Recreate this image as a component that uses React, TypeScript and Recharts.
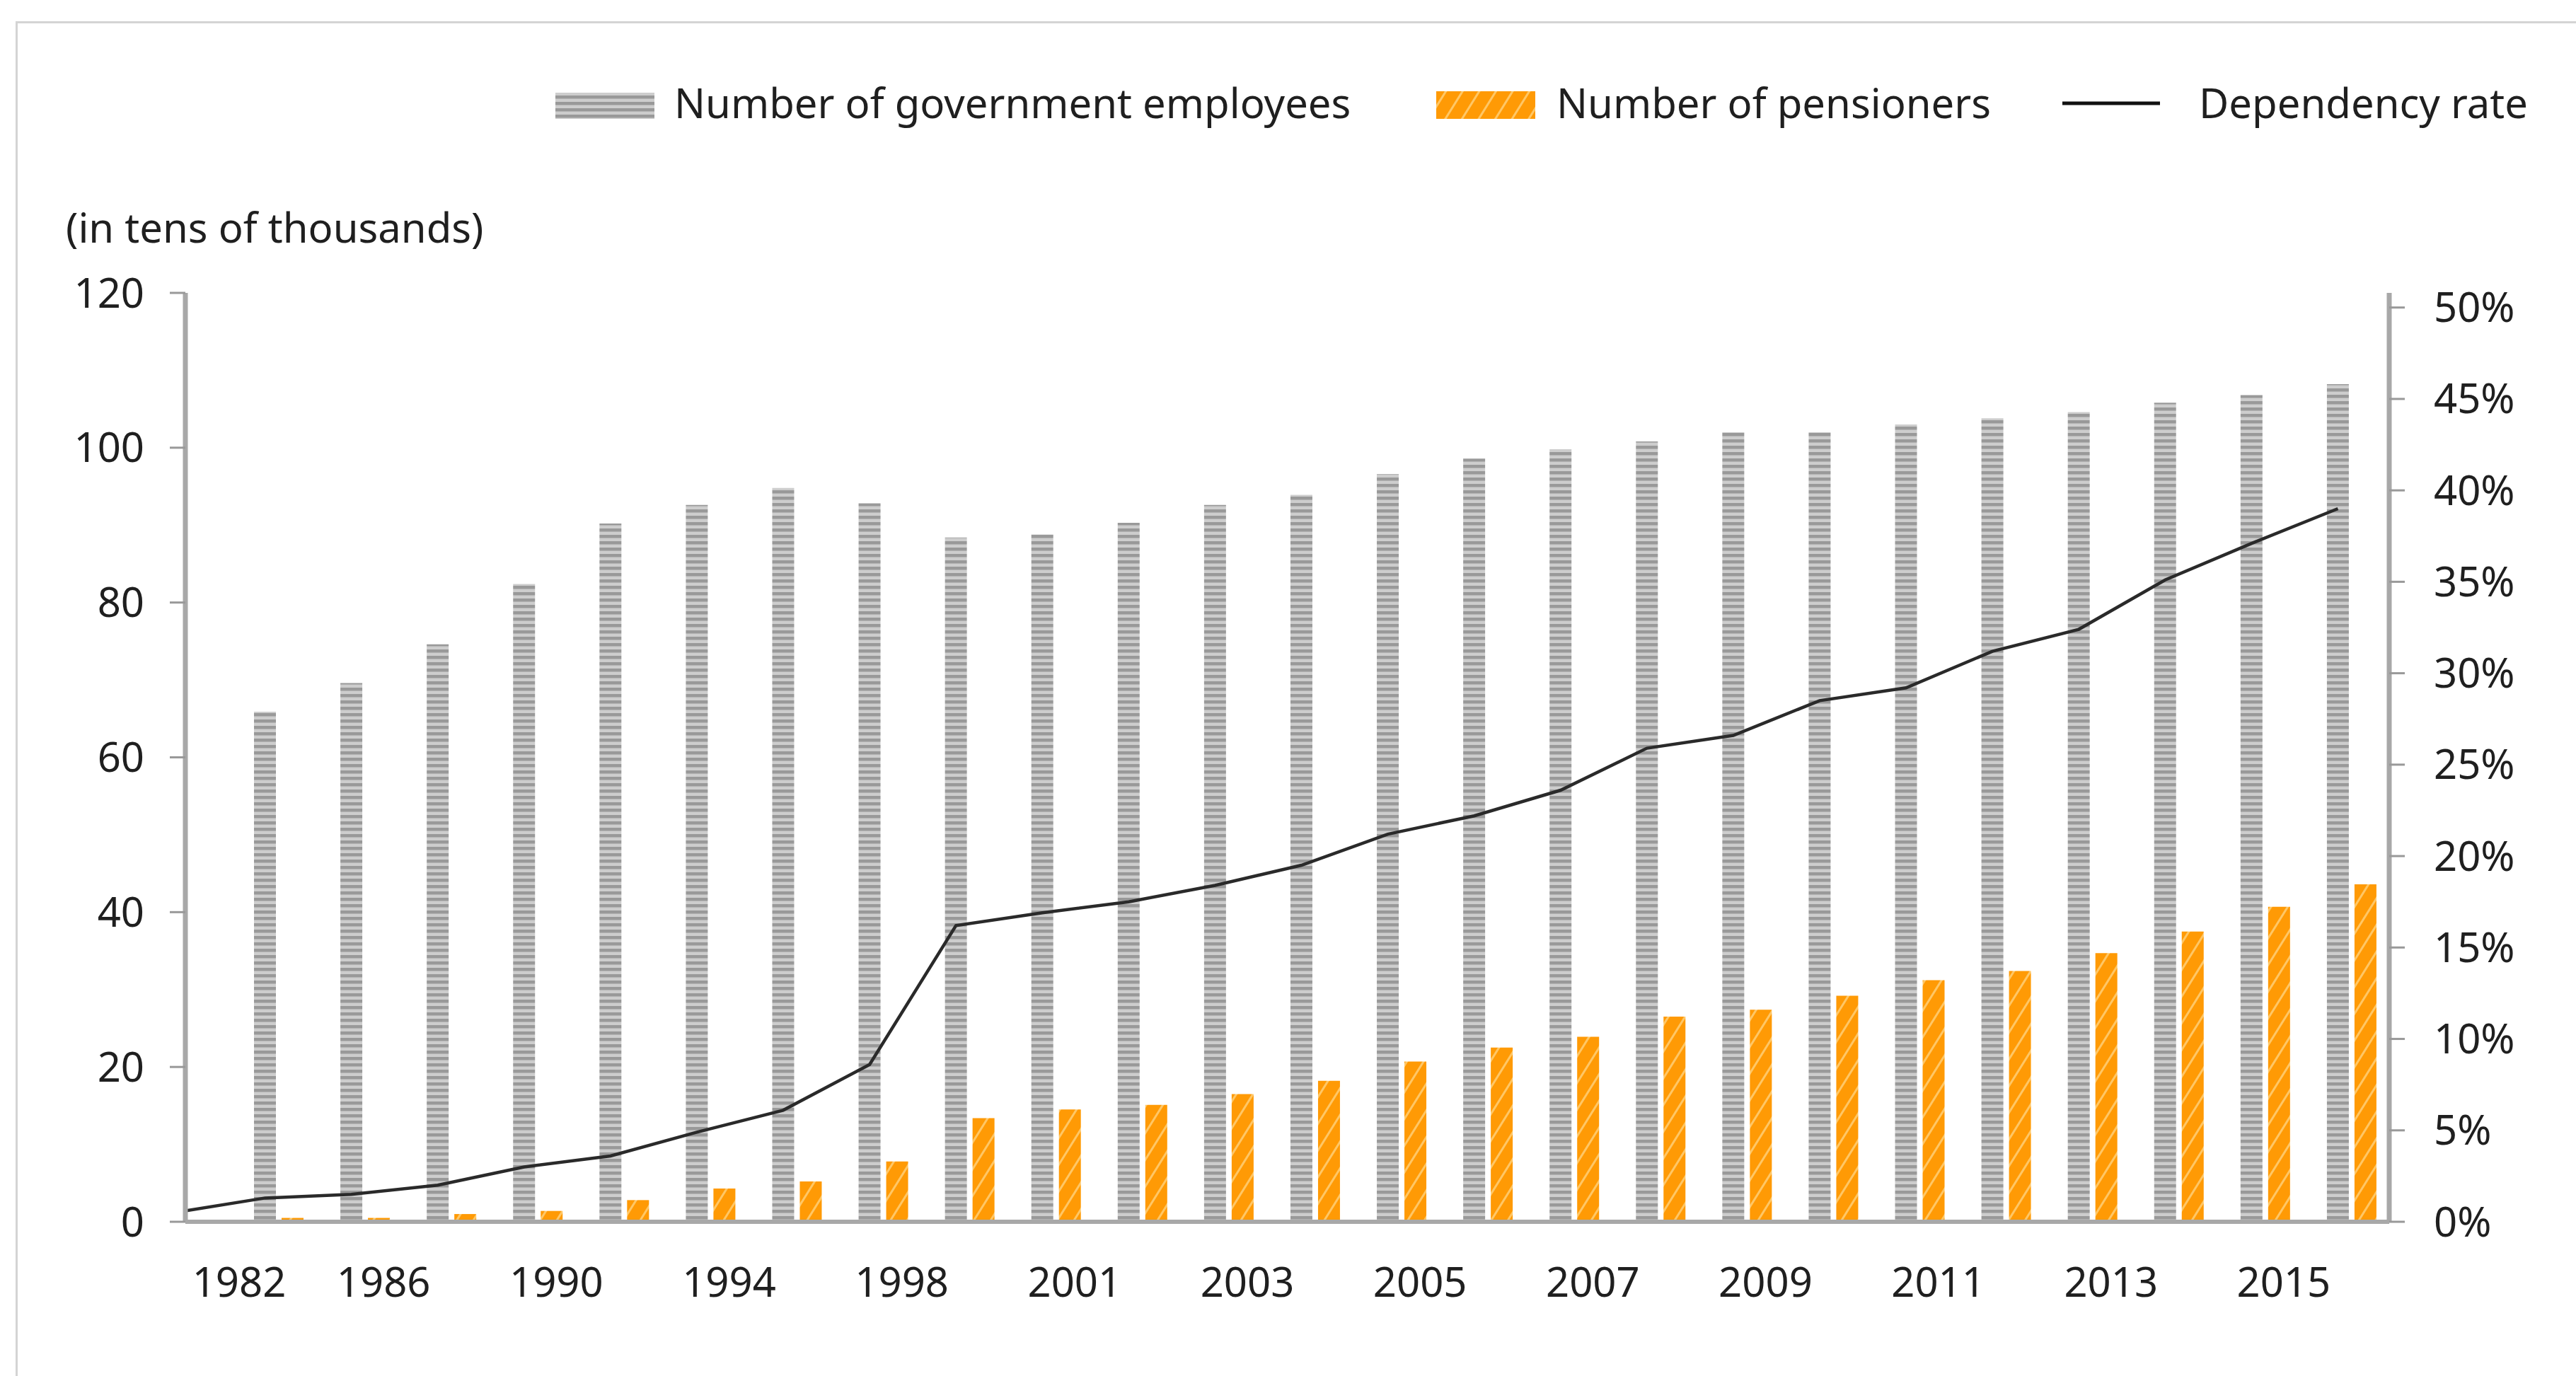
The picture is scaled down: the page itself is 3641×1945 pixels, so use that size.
import { Bar, ComposedChart, Line, XAxis, YAxis } from "recharts";

const years = [
  "1982", "1984", "1986", "1988", "1990", "1992", "1994", "1996", "1998",
  "2000", "2001", "2002", "2003", "2004", "2005", "2006", "2007", "2008",
  "2009", "2010", "2011", "2012", "2013", "2014", "2015"
];

// tens of thousands
const employees = [
  65.9, 69.6, 74.6, 82.4, 90.2, 92.6, 94.8, 92.8, 88.4,
  88.8, 90.3, 92.6, 93.9, 96.6, 98.6, 99.8, 100.8, 102.0,
  102.0, 103.0, 103.8, 104.6, 105.8, 106.8, 108.2
];

const pensioners = [
  0.5, 0.5, 1.0, 1.4, 2.8, 4.3, 5.2, 7.8, 13.4,
  14.5, 15.1, 16.5, 18.2, 20.7, 22.5, 23.9, 26.5, 27.4,
  29.2, 31.2, 32.4, 34.7, 37.5, 40.7, 43.6
];

// percent
const dependencyRate = [
  1.3, 1.5, 2.0, 3.0, 3.6, 4.9, 6.1, 8.6, 16.2,
  16.9, 17.5, 18.4, 19.5, 21.2, 22.2, 23.6, 25.9, 26.6,
  28.5, 29.2, 31.2, 32.4, 35.1, 37.1, 39.0
];
const rateOrigin = 0.6;

const countTicks = [0, 20, 40, 60, 80, 100, 120];
const rateTicks = [0, 5, 10, 15, 20, 25, 30, 35, 40, 45, 50];

const WIDTH = 3641;
const HEIGHT = 1945;
const PLOT_LEFT = 262;
const PLOT_RIGHT = 3377;
const PLOT_TOP = 414;
const PLOT_BOTTOM = 1727;
const PAD_LEFT = 71;
const PAD_RIGHT = -8;
const BAR_SIZE = 31;
const BAR_GAP = 8;

const FONT = "'Noto Sans', sans-serif";
const INK = "#1f1f1f";
const AXIS = "#a8a8a8";

const chartData = years.map((year, i) => ({
  year,
  employees: employees[i],
  pensioners: pensioners[i]
}));

// the rate line sits on the grey bars and starts at the left axis
const bandWidth = (PLOT_RIGHT - PLOT_LEFT - PAD_LEFT - PAD_RIGHT) / years.length;
const greyShift = (BAR_SIZE + BAR_GAP) / 2;
const rateLo = -(PAD_LEFT + bandWidth / 2 - greyShift) / bandWidth;
const rateHi = rateLo + (PLOT_RIGHT - PLOT_LEFT) / bandWidth;

const lineData = [
  { pos: rateLo, rate: rateOrigin },
  ...dependencyRate.map((rate, i) => ({ pos: i, rate }))
];

function YearTick({ x, y, payload, index }: any) {
  const dx = index === 0 ? -56 : -96;
  return (
    <text x={x + dx} y={y + 106} textAnchor="middle" fill={INK} fontSize={58} fontFamily={FONT}>
      {payload.value}
    </text>
  );
}

function Patterns({ suffix }: { suffix: string }) {
  return (
    <defs>
      <pattern id={`emp-${suffix}`} width="12" height="9" patternUnits="userSpaceOnUse">
        <rect width="12" height="9" fill="#cdcdcd" />
        <rect width="12" height="4.5" fill="#999999" />
      </pattern>
      <pattern
        id={`pen-${suffix}`}
        width="20"
        height="20"
        patternUnits="userSpaceOnUse"
        patternTransform="rotate(32)"
      >
        <rect width="20" height="20" fill="#ff9a05" />
        <rect width="3" height="20" fill="#ffc766" />
      </pattern>
    </defs>
  );
}

function Overlay() {
  return (
    <svg
      width={WIDTH}
      height={HEIGHT}
      style={{ position: "absolute", left: 0, top: 0, pointerEvents: "none" }}
    >
      <Patterns suffix="legend" />
      <g fontFamily={FONT} fontSize={58} fill={INK}>
        <rect x={785} y={131} width={140} height={37} fill="url(#emp-legend)" />
        <text x={953} y={167}>Number of government employees</text>
        <rect x={2030} y={129} width={140} height={39} fill="url(#pen-legend)" />
        <text x={2200} y={167}>Number of pensioners</text>
        <line x1={2915} x2={3053} y1={146} y2={146} stroke="#111" strokeWidth={5} />
        <text x={3108} y={167}>Dependency rate</text>
        <text x={93} y={343}>(in tens of thousands)</text>
      </g>
    </svg>
  );
}

export default function App() {
  return (
    <div
      style={{
        position: "absolute",
        left: 0,
        top: 0,
        width: WIDTH,
        height: HEIGHT,
        background: "#fff",
        overflow: "hidden"
      }}
    >
      <div
        style={{
          position: "absolute",
          left: 22,
          top: 30,
          right: -10,
          bottom: -10,
          borderTop: "3px solid #d4d4d4",
          borderLeft: "3px solid #d4d4d4"
        }}
      />
      <ComposedChart
        width={WIDTH}
        height={HEIGHT}
        data={chartData}
        margin={{ top: PLOT_TOP, right: 0, bottom: 0, left: 0 }}
        barGap={BAR_GAP}
        style={{ position: "absolute", left: 0, top: 0 }}
      >
        <Patterns suffix="chart" />

        <XAxis
          dataKey="year"
          height={HEIGHT - PLOT_BOTTOM}
          padding={{ left: PAD_LEFT, right: PAD_RIGHT }}
          interval={1}
          axisLine={{ stroke: AXIS, strokeWidth: 6 }}
          tickLine={false}
          tickSize={0}
          tickMargin={0}
          tick={<YearTick />}
        />
        <XAxis
          xAxisId="rate"
          type="number"
          dataKey="pos"
          domain={[rateLo, rateHi]}
          allowDataOverflow
          hide
        />

        <YAxis
          yAxisId="count"
          orientation="left"
          width={PLOT_LEFT}
          domain={[0, 120]}
          ticks={countTicks}
          interval={0}
          axisLine={{ stroke: AXIS, strokeWidth: 7 }}
          tickLine={{ stroke: "#999", strokeWidth: 3 }}
          tickSize={22}
          tickMargin={36}
          tick={{ fill: INK, fontSize: 58, fontFamily: FONT }}
        />
        <YAxis
          yAxisId="rate"
          orientation="right"
          width={WIDTH - PLOT_RIGHT}
          domain={[0, 50.8]}
          allowDataOverflow
          ticks={rateTicks}
          interval={0}
          tickFormatter={(v: number) => `${v}%`}
          axisLine={{ stroke: AXIS, strokeWidth: 7 }}
          tickLine={{ stroke: "#999", strokeWidth: 3 }}
          tickSize={22}
          tickMargin={41}
          tick={{ fill: INK, fontSize: 58, fontFamily: FONT, textAnchor: "start" }}
        />

        <Bar
          yAxisId="count"
          dataKey="employees"
          barSize={BAR_SIZE}
          fill="url(#emp-chart)"
          isAnimationActive={false}
        />
        <Bar
          yAxisId="count"
          dataKey="pensioners"
          barSize={BAR_SIZE}
          fill="url(#pen-chart)"
          isAnimationActive={false}
        />
        <Line
          xAxisId="rate"
          yAxisId="rate"
          data={lineData}
          dataKey="rate"
          type="linear"
          stroke="#2a2a2a"
          strokeWidth={4.5}
          dot={false}
          activeDot={false}
          isAnimationActive={false}
        />
      </ComposedChart>
      <Overlay />
    </div>
  );
}
